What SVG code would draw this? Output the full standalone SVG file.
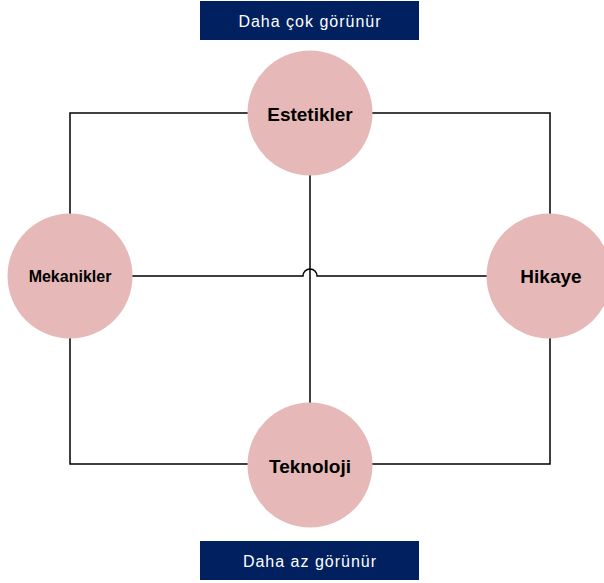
<svg xmlns="http://www.w3.org/2000/svg" width="604" height="583" viewBox="0 0 604 583">
<style>
.bar{fill:#002060}
.bartxt{fill:#ffffff;font-family:"Liberation Sans",Arial,sans-serif;font-size:16px;letter-spacing:1px;text-anchor:middle}
.node{fill:#E6B9B8}
.lbl{fill:#000000;font-family:"Liberation Sans",Arial,sans-serif;font-weight:bold;font-size:19px;text-anchor:middle}
.conn{fill:none;stroke:#000000;stroke-width:1.5}
</style>
<rect width="604" height="583" fill="#ffffff"/>
<g id="connectors">
<path class="conn" d="M70,276 V113 H550 V276"/>
<path class="conn" d="M70,276 V464 H550 V276"/>
<path class="conn" d="M310,113 V464"/>
<path class="conn" d="M70,276 H303 A7,7 0 0 1 317,276 H550"/>
</g>
<g id="top-label">
<rect class="bar" x="200" y="1" width="219" height="39"/>
<text class="bartxt" x="310" y="27">Daha çok görünür</text>
</g>
<g id="bottom-label">
<rect class="bar" x="200" y="541" width="219" height="39"/>
<text class="bartxt" x="310" y="567">Daha az görünür</text>
</g>
<g id="estetikler">
<circle class="node" cx="310" cy="113" r="62.5"/>
<text class="lbl" x="310" y="121">Estetikler</text>
</g>
<g id="mekanikler">
<circle class="node" cx="70" cy="276" r="62.5"/>
<text class="lbl" x="70" y="282" style="font-size:16px">Mekanikler</text>
</g>
<g id="hikaye">
<circle class="node" cx="549" cy="276" r="62.5"/>
<text class="lbl" x="551" y="283">Hikaye</text>
</g>
<g id="teknoloji">
<circle class="node" cx="310" cy="465" r="62.5"/>
<text class="lbl" x="310" y="473">Teknoloji</text>
</g>
</svg>
